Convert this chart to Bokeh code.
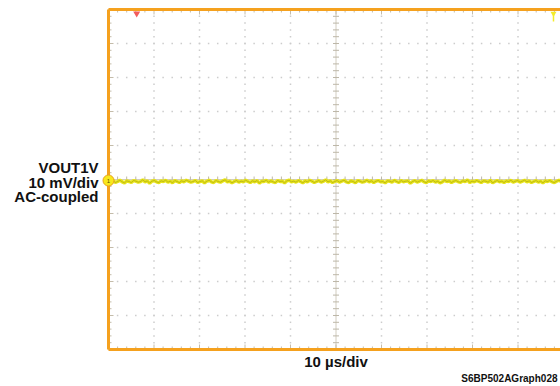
import numpy as np
from bokeh.plotting import figure
from bokeh.models import Range1d
from bokeh.core.properties import value
from bokeh.embed import file_html
from bokeh.resources import INLINE

# ---- data ----
US_PER_DIV = 10.0          # horizontal scale
MV_PER_DIV = 10.0          # vertical scale
X_DIVS = list(range(0, 11))
Y_DIVS = list(range(-5, 6))
TRIG_POS_DIV = 0.62        # trigger marker (red)
TRIG_END_DIV = 9.78        # yellow marker top right
LEFT_LABEL = ["VOUT1V", "10 mV/div", "AC-coupled"]
X_LABEL = "10 µs/div"
GRAPH_ID = "S6BP502AGraph028"

vout_mv = [
    -0.5,-0.8,-0.3,-0.9,-0.6,-0.2,-0.7,-1.0,-0.4,-0.6,-0.9,-0.3,-0.5,-0.8,-0.6,-0.1,-0.7,-0.4,-1.1,-0.5,
    -0.3,-0.7,-0.9,-0.4,-0.6,-0.2,-0.8,-0.5,-1.0,-0.3,-0.6,-0.9,-0.4,-0.7,-0.2,-0.5,-0.8,-0.6,-0.3,-0.9,
    -0.6,-0.4,-1.0,-0.5,-0.2,-0.7,-0.9,-0.3,-0.6,-0.8,-0.4,-0.1,-0.7,-0.5,-1.0,-0.6,-0.3,-0.8,-0.5,-0.7,
    -0.2,-0.6,-0.9,-0.4,-0.7,-0.3,-1.1,-0.5,-0.6,-0.2,-0.8,-0.4,-0.7,-0.9,-0.3,-0.6,-0.5,-1.0,-0.4,-0.2,
    -0.7,-0.5,-0.8,-0.3,-0.6,-1.0,-0.4,-0.7,-0.2,-0.5,-0.9,-0.6,-0.3,-0.8,-0.5,-0.1,-0.7,-0.4,-0.9,-0.6,
    -0.3,-0.8,-0.5,-0.2,-0.7,-0.9,-0.4,-0.6,-1.0,-0.3,-0.5,-0.8,-0.6,-0.2,-0.7,-0.4,-0.9,-0.5,-0.3,-0.7,
    -0.6,-1.0,-0.4,-0.5,-0.8,-0.2,-0.6,-0.9,-0.3,-0.7,-0.5,-0.4,-1.1,-0.6,-0.3,-0.8,-0.5,-0.2,-0.7,-0.9,
    -0.4,-0.6,-0.3,-0.8,-0.5,-1.0,-0.7,-0.2,-0.6,-0.4,-0.9,-0.5,-0.3,-0.7,-0.8,-0.4,-0.6,-0.1,-0.9,-0.5,
    -0.7,-0.3,-0.6,-0.9,-0.4,-0.5,-0.8,-0.2,-1.0,-0.6,-0.3,-0.7,-0.5,-0.9,-0.4,-0.6,-0.2,-0.8,-0.5,-0.3,
    -0.8,-0.5,-0.2,-0.7,-0.4,-0.9,-0.6,-0.3,-0.8,-0.5,-1.0,-0.4,-0.6,-0.3,-0.7,-0.9,-0.5,-0.2,-0.6,-0.4,
]

n = len(vout_mv)
t_us = np.arange(n) * (US_PER_DIV * 10 / (n - 1))
x_div = t_us / US_PER_DIV
y_div = np.array(vout_mv) / MV_PER_DIV

# ---- layout / style ----
W, H = 560, 386
LEFT_PX, CENTER_PX = 108.0, 179.0   # frame left edge, vertical centre (page px)
PX_X, PX_Y = 45.5, 34.0             # px per division
ORANGE = "#f5a11e"
TICK = "#c4bcaa"
GRID = "#cccccc"
FONT = "Liberation Sans"

xr = Range1d(-LEFT_PX / PX_X, (W - LEFT_PX) / PX_X)
yr = Range1d((CENTER_PX - H) / PX_Y, CENTER_PX / PX_Y)
p = figure(width=W, height=H, output_backend="svg", toolbar_location=None,
           x_axis_type=None, y_axis_type=None, x_range=xr, y_range=yr,
           min_border=0)
p.outline_line_color = None
p.xgrid.visible = False
p.ygrid.visible = False

minor_x = [round(v, 3) for v in np.arange(0, 10.001, 0.2)]
minor_y = [round(v, 3) for v in np.arange(-5, 5.001, 0.2)]
X_MAX = 10
Y_TOP, Y_BOT = 5, -5

def px_x(v):
    return v / PX_X

def px_y(v):
    return v / PX_Y

# dotted graticule
gx, gy = [], []
for xv in X_DIVS[1:-1]:
    if xv == 5:
        continue
    for yv in minor_y:
        gx.append(xv); gy.append(yv)
for yv in Y_DIVS[1:-1]:
    if yv == 0:
        continue
    for xv in minor_x:
        gx.append(xv); gy.append(yv)
p.scatter(gx, gy, marker="square", size=1.5, color=GRID, line_color=None)

# centre cross with small ticks
p.segment(x0=[5], y0=[Y_BOT], x1=[5], y1=[Y_TOP], line_color="#d2cdc0", line_width=1)
p.segment(x0=[0], y0=[0], x1=[X_MAX], y1=[0], line_color="#d2cdc0", line_width=1)
p.segment(x0=[5 - px_x(3)] * len(minor_y), y0=minor_y, x1=[5 + px_x(3)] * len(minor_y),
          y1=minor_y, line_color="#bdb7a8", line_width=1)
p.segment(x0=minor_x, y0=[-px_y(3)] * len(minor_x), x1=minor_x, y1=[px_y(3)] * len(minor_x),
          line_color="#bdb7a8", line_width=1)

# border ticks (pointing inwards)
def tick_len(v, majors, major_len=5, minor_len=3):
    return major_len if v in majors else minor_len

lx0 = [0] * len(minor_y)
lx1 = [px_x(tick_len(v, Y_DIVS)) for v in minor_y]
p.segment(x0=lx0, y0=minor_y, x1=lx1, y1=minor_y, line_color=TICK, line_width=1)
ty1 = [Y_TOP - px_y(tick_len(v, X_DIVS)) for v in minor_x]
p.segment(x0=minor_x, y0=[Y_TOP] * len(minor_x), x1=minor_x, y1=ty1, line_color=TICK, line_width=1)
by1 = [Y_BOT + px_y(tick_len(v, X_DIVS)) for v in minor_x]
p.segment(x0=minor_x, y0=[Y_BOT] * len(minor_x), x1=minor_x, y1=by1, line_color=TICK, line_width=1)

# orange frame (left, top, bottom)
p.segment(x0=[0, 0, 0], y0=[Y_BOT, Y_TOP, Y_BOT], x1=[0, X_MAX, X_MAX], y1=[Y_TOP, Y_TOP, Y_BOT],
          line_color=ORANGE, line_width=3)

# trace
p.line(x_div, y_div, line_color="#e8e419", line_width=3.4)
p.line(x_div, y_div, line_color="#6f6d14", line_width=0.7, line_alpha=0.5)

# markers
p.scatter([TRIG_POS_DIV], [Y_TOP - px_y(4)], marker="inverted_triangle", size=7,
          color="#f25c5c", line_color=None)
p.segment(x0=[TRIG_END_DIV], y0=[Y_TOP - px_y(3)], x1=[TRIG_END_DIV], y1=[Y_TOP - px_y(12)],
          line_color="#f3ec2a", line_width=1.5)
p.scatter([TRIG_END_DIV], [Y_TOP - px_y(4)], marker="inverted_triangle", size=6,
          color="#f3ec2a", line_color=None)

# channel 1 marker
p.scatter([0], [-px_y(1)], marker="circle", size=11, fill_color="#f8e81c",
          line_color="#e8a020", line_width=1)
p.text([0], [-px_y(1)], text=["1"], text_font=value(FONT), text_font_size="6px",
       text_color="#555500", text_align="center", text_baseline="middle")

# texts
p.text([-px_x(10)] * 3, [px_y(12), px_y(-2.5), px_y(-17)], text=LEFT_LABEL,
       text_font=value(FONT), text_font_size="15px", text_font_style="bold",
       text_color="#111111", text_align="right", text_baseline="middle")
p.text([5], [Y_BOT - px_y(12)], text=[X_LABEL], text_font=value(FONT),
       text_font_size="15px", text_font_style="bold", text_color="#111111",
       text_align="center", text_baseline="middle")
p.text([px_x(449)], [Y_BOT - px_y(29)], text=[GRAPH_ID], text_font=value(FONT),
       text_font_size="10px", text_font_style="bold", text_color="#111111",
       text_align="right", text_baseline="middle")

open("out.html", "w").write(file_html(p, INLINE))
